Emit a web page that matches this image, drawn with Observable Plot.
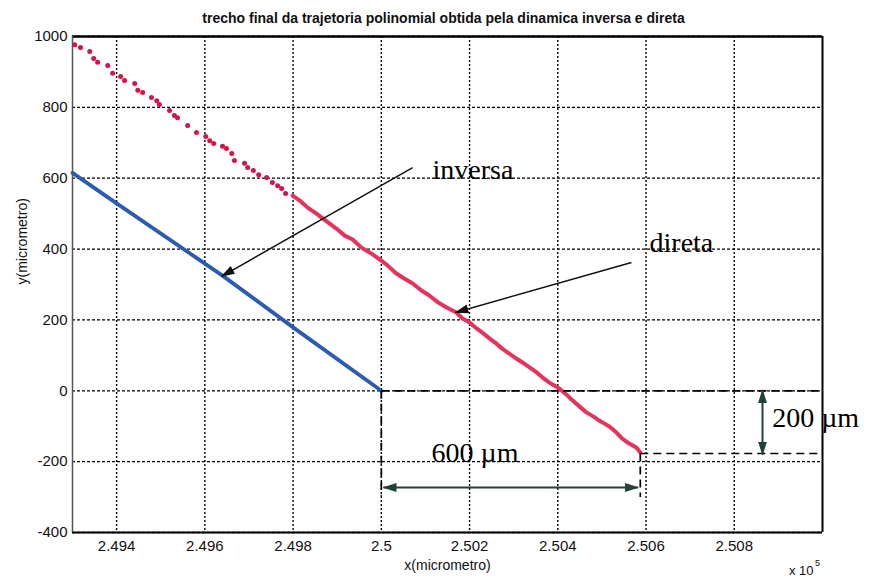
<!DOCTYPE html>
<html>
<head>
<meta charset="utf-8">
<script src="https://cdn.jsdelivr.net/npm/d3@7"></script>
<script src="https://cdn.jsdelivr.net/npm/@observablehq/plot@0.6"></script>
<style>
  html, body { margin: 0; padding: 0; background: #fff; }
  #title { height: 30px; box-sizing: border-box; padding-top: 11px; padding-left: 8px; text-align: center;
           font: bold 14px "Liberation Sans", Arial, sans-serif; line-height: 15px; color: #111; }
  #chart svg { overflow: visible; }
</style>
</head>
<body>
<div id="title">trecho final da trajetoria polinomial obtida pela dinamica inversa e direta</div>
<div id="chart"></div>
<script>
// ---- data (micrometro) ----
const xTicks = [249400, 249600, 249800, 250000, 250200, 250400, 250600, 250800];
const xTickLabels = ["2.494", "2.496", "2.498", "2.5", "2.502", "2.504", "2.506", "2.508"];
const yTicks = [-400, -200, 0, 200, 400, 600, 800, 1000];
const yTickLabels = ["-400", "-200", "0", "200", "400", "600", "800", "1000"];

// inversa (blue)
const inversaX = [249300, 249400, 249640, 249800, 250000];
const inversaY = [615, 529, 325, 179, 0];

// direta (red) - sparse dotted part
const diretaDotX = [249305, 249318, 249339, 249348, 249357, 249380, 249391, 249409, 249418, 249441, 249448, 249459,
  249479, 249491, 249497, 249520, 249531, 249538, 249561, 249581, 249602, 249611, 249620, 249640, 249649, 249661,
  249667, 249690, 249697, 249710, 249722, 249740, 249753, 249765, 249774, 249783];
const diretaDotY = [977, 969, 958, 938, 927, 918, 896, 887, 876, 867, 848, 842,
  828, 819, 808, 791, 777, 771, 749, 729, 718, 706, 698, 690, 684, 670,
  650, 642, 630, 622, 610, 602, 588, 579, 571, 557];
// direta (red) - dense part
const diretaX = [249799, 249815, 249833, 249853, 249876, 249898, 249917, 249935, 249955, 249978, 249996, 250014,
  250034, 250052, 250071, 250091, 250109, 250129, 250148, 250170, 250184, 250200, 250216, 250229, 250245, 250261,
  250274, 250290, 250306, 250320, 250336, 250352, 250365, 250381, 250392, 250404, 250420, 250433, 250449, 250465,
  250481, 250494, 250505, 250517, 250533, 250546, 250562, 250578, 250587];
const diretaY = [551, 537, 517, 500, 478, 458, 438, 427, 404, 387, 371, 354,
  331, 317, 303, 283, 269, 249, 235, 221, 204, 193, 176, 164, 148, 133,
  119, 105, 91, 80, 66, 52, 38, 23, 15, 6, -11, -27, -44, -61,
  -73, -84, -92, -101, -118, -135, -149, -160, -174];

// annotation texts (data coords)
const labelText = ["inversa", "direta", "600 µm", "200 µm"];
const labelX = [250116, 250608, 250114, 250886];
const labelY = [622, 416, -177, -78];

// pointer arrows
const pointerX1 = [250071, 250567];
const pointerY1 = [630, 362];
const pointerX2 = [249638, 250168];
const pointerY2 = [323, 221];

// dashed guide lines
const guideX1 = [250000, 250587, 250000, 250587];
const guideY1 = [0, -177, 0, -177];
const guideX2 = [251000, 251000, 250000, 250587];
const guideY2 = [0, -177, -296, -300];

// double arrows (measurements)
const dimX1 = [250005, 250864];
const dimY1 = [-273, 2];
const dimX2 = [250582, 250864];
const dimY2 = [-273, -180];

// ---- build ----
const inversa = inversaX.map((x, i) => ({x, y: inversaY[i]}));
const diretaDots = diretaDotX.map((x, i) => ({x, y: diretaDotY[i]}));
const direta = diretaX.map((x, i) => ({x, y: diretaY[i]}));
const labels = labelText.map((t, i) => ({t, x: labelX[i], y: labelY[i]}));
const pointers = pointerX1.map((x1, i) => ({x1, y1: pointerY1[i], x2: pointerX2[i], y2: pointerY2[i]}));
const guides = guideX1.map((x1, i) => ({x1, y1: guideY1[i], x2: guideX2[i], y2: guideY2[i]}));
const dims = dimX1.map((x1, i) => ({x1, y1: dimY1[i], x2: dimX2[i], y2: dimY2[i]}));

function triMarker(color) {
  const ns = "http://www.w3.org/2000/svg";
  const m = document.createElementNS(ns, "marker");
  m.setAttribute("viewBox", "0 -5 14 10");
  m.setAttribute("refX", "13");
  m.setAttribute("refY", "0");
  m.setAttribute("markerWidth", "14");
  m.setAttribute("markerHeight", "10");
  m.setAttribute("markerUnits", "userSpaceOnUse");
  m.setAttribute("orient", "auto-start-reverse");
  const p = document.createElementNS(ns, "path");
  p.setAttribute("d", "M0,-4.5L14,0L0,4.5Z");
  p.setAttribute("fill", color);
  p.setAttribute("stroke", "none");
  m.appendChild(p);
  return m;
}

const fmtX = d => xTickLabels[xTicks.indexOf(d)];
const fmtY = d => yTickLabels[yTicks.indexOf(d)];

function build(markerStart, markerEnd) {
  return Plot.plot({
    width: 879,
    height: 550,
    marginLeft: 72,
    marginRight: 57,
    marginTop: 6,
    marginBottom: 48,
    style: {fontFamily: "'Liberation Sans', Arial, sans-serif", fontSize: "15px", color: "#111", background: "#fff"},
    x: {domain: [249300, 251000], axis: null},
    y: {domain: [-400, 1000], axis: null},
    marks: [
      Plot.gridX(xTicks, {stroke: "#000", strokeOpacity: 1, strokeWidth: 1.4, strokeDasharray: "2,2"}),
      Plot.gridY(yTicks, {stroke: "#000", strokeOpacity: 1, strokeWidth: 1.3, strokeDasharray: "3,2"}),
      Plot.axisX(xTicks, {tickSize: 0, tickPadding: 8, tickFormat: fmtX, fontSize: 15, label: null}),
      Plot.axisY(yTicks, {tickSize: 0, tickPadding: 5, tickFormat: fmtY, fontSize: 15, label: null}),
      Plot.ruleY([1000], {stroke: "#000", strokeWidth: 2.5}),
      Plot.ruleY([-400], {stroke: "#000", strokeWidth: 2}),
      Plot.ruleX([251000], {stroke: "#000", strokeWidth: 2}),
      Plot.ruleX([249300], {stroke: "#555", strokeWidth: 1.5}),
      Plot.line(inversa, {x: "x", y: "y", stroke: "#2b5cb0", strokeWidth: 3.8}),
      Plot.line(direta, {x: "x", y: "y", stroke: "#e2345c", strokeWidth: 4}),
      Plot.dot(diretaDots, {x: "x", y: "y", r: 2.5, fill: "#d3144a", stroke: "none"}),
      Plot.link(guides, {x1: "x1", y1: "y1", x2: "x2", y2: "y2", stroke: "#000", strokeWidth: 1.7, strokeDasharray: "8,5"}),
      Plot.link(pointers, {x1: "x1", y1: "y1", x2: "x2", y2: "y2", stroke: "#111", strokeWidth: 1.5, markerEnd}),
      Plot.link(dims, {x1: "x1", y1: "y1", x2: "x2", y2: "y2", stroke: "#24403a", strokeWidth: 2, markerStart, markerEnd}),
      Plot.text(labels, {x: "x", y: "y", text: "t", textAnchor: "start", fontSize: 28, fill: "#000",
        fontFamily: "'Liberation Serif', 'Times New Roman', serif", style: {letterSpacing: "1px"}}),
      Plot.text(["x(micrometro)"], {frameAnchor: "bottom", dy: 37, fontSize: 14, fill: "#111"}),
      Plot.text(["y(micrometro)"], {frameAnchor: "left", dx: -50, rotate: -90, fontSize: 14, fill: "#111"}),
      Plot.text(["x 10"], {frameAnchor: "bottom-right", dx: -9, dy: 42, textAnchor: "end", fontSize: 13, fill: "#111"}),
      Plot.text(["5"], {frameAnchor: "bottom-right", dx: -5, dy: 33, textAnchor: "middle", fontSize: 9, fill: "#111"})
    ]
  });
}

let chart;
try {
  chart = build(triMarker, triMarker);
} catch (e) {
  chart = build("arrow", "arrow");
}
document.getElementById("chart").appendChild(chart);
</script>
</body>
</html>
